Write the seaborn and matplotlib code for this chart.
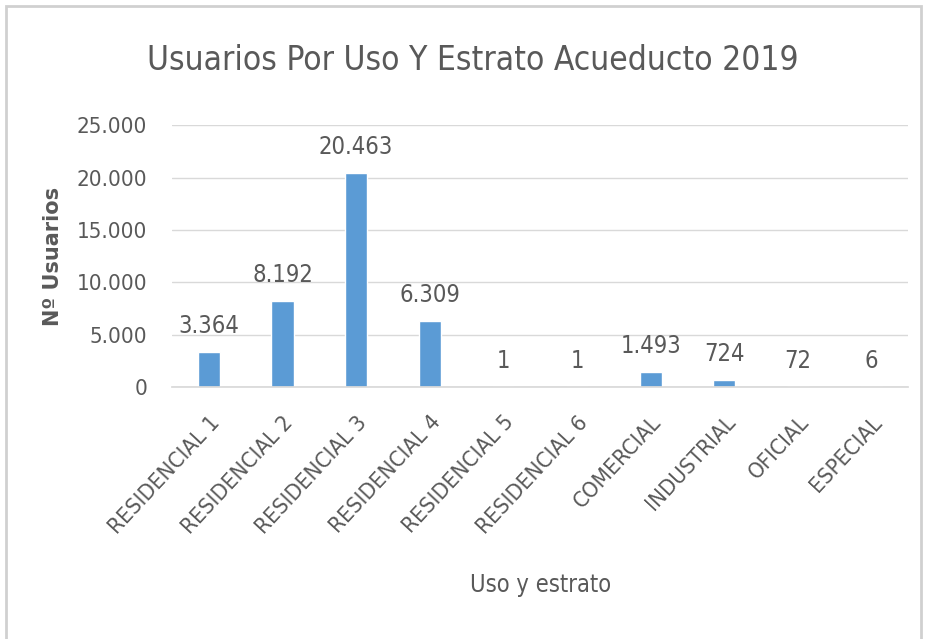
import matplotlib
matplotlib.use("Agg")
import matplotlib.pyplot as plt
import seaborn as sns
import pandas as pd
from matplotlib.patches import Rectangle
from matplotlib.ticker import FuncFormatter

categories = ["RESIDENCIAL 1", "RESIDENCIAL 2", "RESIDENCIAL 3", "RESIDENCIAL 4",
              "RESIDENCIAL 5", "RESIDENCIAL 6", "COMERCIAL", "INDUSTRIAL",
              "OFICIAL", "ESPECIAL"]
usuarios = [3364, 8192, 20463, 6309, 1, 1, 1493, 724, 72, 6]
y_ticks = [0, 5000, 10000, 15000, 20000, 25000]

title = "Usuarios Por Uso Y Estrato Acueducto 2019"
x_label = "Uso y estrato"
y_label = "Nº Usuarios"

sns.set_theme(style="white")
plt.rcParams["font.family"] = ["DejaVu Sans"]
plt.rcParams["font.stretch"] = "condensed"
gray = "#595959"

df = pd.DataFrame({"cat": categories, "val": usuarios})

fig = plt.figure(figsize=(9.25, 6.39), dpi=100)
ax = fig.add_axes([0.186, 0.394, 0.796, 0.41])
sns.barplot(data=df, x="cat", y="val", color="#5B9BD5", width=0.3,
            saturation=1, ax=ax)

def fmt(v):
    return f"{int(v):,}".replace(",", ".")

ax.set_ylim(0, 25000)
ax.set_yticks(y_ticks)
ax.yaxis.set_major_formatter(FuncFormatter(lambda v, p: fmt(v)))
ax.set_xlim(-0.5, len(categories) - 0.5)
ax.grid(axis="y", color="#D9D9D9", linewidth=1)
ax.set_axisbelow(True)
for s in ["top", "right", "left"]:
    ax.spines[s].set_visible(False)
ax.spines["bottom"].set_color("#D9D9D9")
ax.tick_params(axis="both", length=0, colors=gray, labelsize=16)
ax.tick_params(axis="y", pad=18)
ax.tick_params(axis="x", pad=18)
plt.setp(ax.get_xticklabels(), rotation=47, ha="right", rotation_mode="anchor",
         fontsize=16)

ax.bar_label(ax.containers[0], labels=[fmt(v) for v in usuarios],
             padding=10, fontsize=17, color=gray)

ax.set_xlabel(x_label, fontsize=17, color=gray, labelpad=26)
ax.set_ylabel(y_label, fontsize=15, color=gray, fontweight="bold",
              fontstretch="normal", labelpad=10)
fig.text(0.511, 0.905, title, ha="center", va="center", fontsize=24, color=gray)

fig.patches.append(Rectangle((0.006, -0.01), 0.99, 1.0, transform=fig.transFigure,
                             fill=False, edgecolor="#D0D0D0", linewidth=2))

fig.savefig("out.png", dpi=100, facecolor="white")
